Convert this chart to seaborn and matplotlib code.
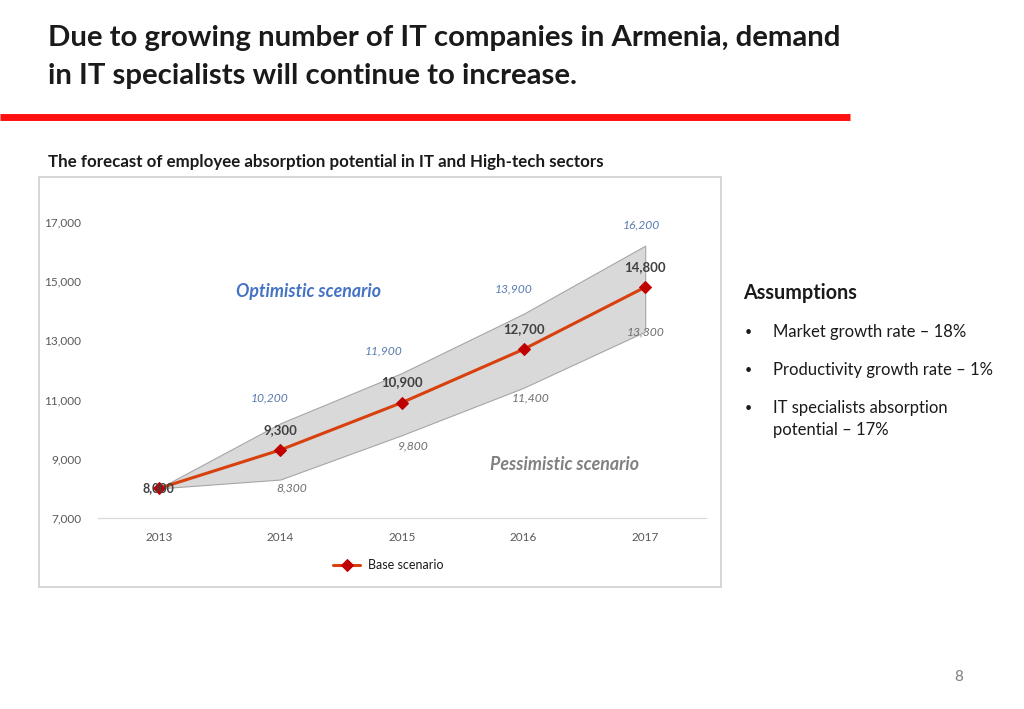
import matplotlib
matplotlib.use("Agg")
import matplotlib.pyplot as plt
import seaborn as sns
import pandas as pd
from matplotlib.patches import Rectangle
from matplotlib.lines import Line2D

years = ["2013", "2014", "2015", "2016", "2017"]
base = [8000, 9300, 10900, 12700, 14800]
optimistic = [8000, 10200, 11900, 13900, 16200]
pessimistic = [8000, 8300, 9800, 11400, 13300]
y_ticks = [7000, 9000, 11000, 13000, 15000, 17000]

# label offsets (points) for annotation placement
opt_offsets = [(0, 0), (-8, 18), (-13, 16), (-7, 18), (-3, 15)]
pes_offsets = [(0, 0), (8, -6), (8, -8), (5, -7), (0, 0)]

sns.set_theme(style="white")
plt.rcParams['font.family'] = ['Lato', 'DejaVu Sans']

W, H = 1024, 709
fig = plt.figure(figsize=(W / 100, H / 100), dpi=100)

def fx(px):
    return px / W

def fy(py):
    return 1 - py / H

# Title
fig.text(fx(48), fy(38), "Due to growing number of IT companies in Armenia, demand",
         fontsize=21.2, fontweight='bold', color='#1a1a1a', va='center', ha='left')
fig.text(fx(48), fy(76), "in IT specialists will continue to increase.",
         fontsize=21.2, fontweight='bold', color='#1a1a1a', va='center', ha='left')
fig.add_artist(Line2D([0, fx(850)], [fy(117), fy(117)], color='#FF1010', lw=5,
                      solid_capstyle='butt', transform=fig.transFigure))

fig.text(fx(48), fy(162), "The forecast of employee absorption potential in IT and High-tech sectors",
         fontsize=12.2, fontweight='bold', color='#1a1a1a', va='center', ha='left')

# chart frame
fig.add_artist(Rectangle((fx(39), fy(587)), fx(721) - fx(39), fy(177) - fy(587),
                         transform=fig.transFigure, fill=False, edgecolor='#d0d0d0', lw=1.2))

ax = fig.add_axes([fx(98), fy(518), fx(706) - fx(98), fy(222) - fy(518)])
df = pd.DataFrame({"x": range(len(years)), "year": years, "base": base,
                   "opt": optimistic, "pes": pessimistic})

ax.fill_between(df["x"], df["pes"], df["opt"], color='#d9d9d9', edgecolor='#a6a6a6', lw=0.8, zorder=1)
sns.lineplot(data=df, x="x", y="base", ax=ax, color='#D8400E', lw=2.2, marker='D',
             markersize=6, markerfacecolor='#C00000', markeredgecolor='#C00000', zorder=3,
             label="Base scenario")

ax.set_xlim(-0.5, 4.5)
ax.set_ylim(7000, 17000)
ax.set_yticks(y_ticks)
ax.set_yticklabels([f"{v:,}" for v in y_ticks], fontsize=8.5, color='#595959')
ax.set_xticks(range(len(years)))
ax.set_xticklabels(years, fontsize=8.5, color='#595959')
ax.set_xticks([i - 0.5 for i in range(len(years) + 1)], minor=True)
ax.tick_params(axis='x', which='major', length=0, pad=10)
ax.tick_params(axis='x', which='minor', length=4, color='#d9d9d9', width=0.8)
ax.tick_params(axis='y', length=0, pad=12)
ax.set_xlabel("")
ax.set_ylabel("")
for s in ['top', 'right', 'left']:
    ax.spines[s].set_visible(False)
ax.spines['bottom'].set_color('#d9d9d9')
ax.spines['bottom'].set_linewidth(0.9)
ax.patch.set_alpha(0)

# data labels
for i in range(len(years)):
    if i == 0:
        ax.annotate(f"{base[i]:,}", (i, base[i]), ha='center', va='center', fontsize=9,
                    fontweight='bold', color='#404040', zorder=4)
        continue
    ax.annotate(f"{base[i]:,}", (i, base[i]), xytext=(0, 14.5), textcoords='offset points',
                ha='center', va='center', fontsize=9.5, fontweight='bold', color='#404040')
    ax.annotate(f"{optimistic[i]:,}", (i, optimistic[i]), xytext=opt_offsets[i],
                textcoords='offset points', ha='center', va='center', fontsize=8.7,
                style='italic', color='#5b7bb0')
    ax.annotate(f"{pessimistic[i]:,}", (i, pessimistic[i]), xytext=pes_offsets[i],
                textcoords='offset points', ha='center', va='center', fontsize=8.7,
                style='italic', color='#6e6e6e')

fig.text(fx(308), fy(291), "Optimistic scenario", fontsize=12.8, fontweight='bold', style='italic',
         color='#4472C4', ha='center', va='center')
fig.text(fx(565), fy(465), "Pessimistic scenario", fontsize=12.8, fontweight='bold', style='italic',
         color='#808080', ha='center', va='center')

leg = ax.legend(loc='center', bbox_to_anchor=(fx(388), fy(565)), bbox_transform=fig.transFigure,
                frameon=False, fontsize=9, handlelength=2.2, handletextpad=0.6)
for t in leg.get_texts():
    t.set_color('#1a1a1a')

# Assumptions
fig.text(fx(743), fy(293), "Assumptions", fontsize=14.2, fontweight='bold', color='#1a1a1a',
         ha='left', va='center')
bullets = [(332, "Market growth rate – 18%"),
           (370, "Productivity growth rate – 1%"),
           (408, "IT specialists absorption"),
           (430, "potential – 17%")]
for i, (py, txt) in enumerate(bullets):
    if i < 3:
        fig.text(fx(745), fy(py), "•", fontsize=9, color='#1a1a1a', ha='left', va='center')
    fig.text(fx(773), fy(py), txt, fontsize=12.0, color='#1a1a1a', ha='left', va='center')

fig.text(fx(959), fy(677), "8", fontsize=11, color='#7f7f7f', ha='center', va='center')

fig.savefig("out.png", dpi=100)
